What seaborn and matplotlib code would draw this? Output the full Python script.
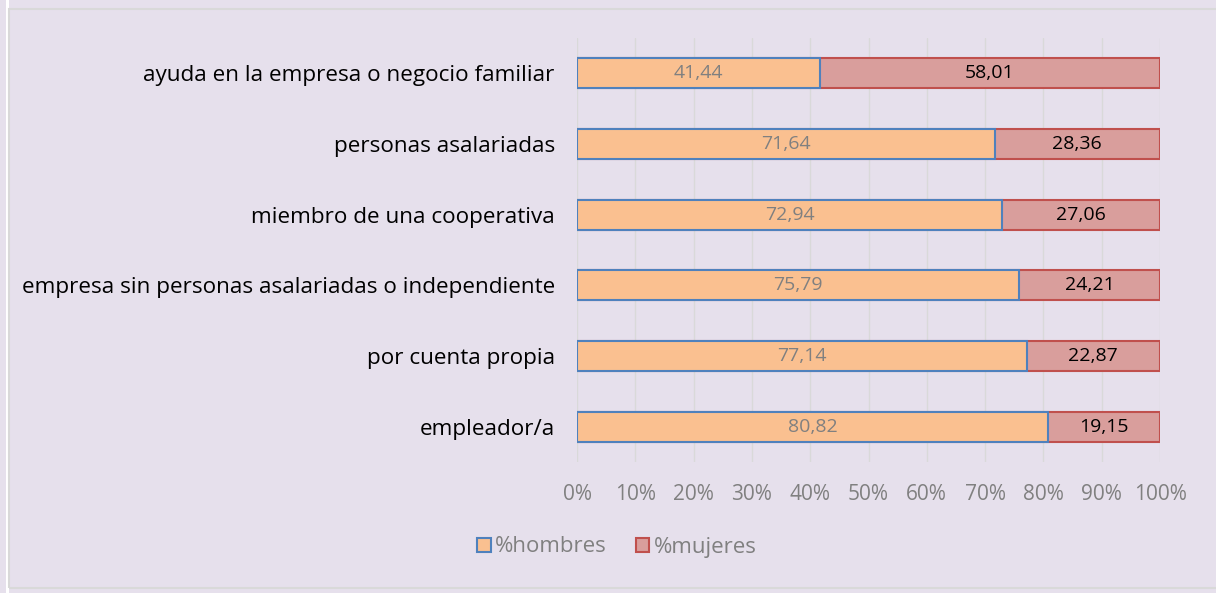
import pandas as pd
import matplotlib.pyplot as plt
import seaborn as sns
from matplotlib.patches import Rectangle, Patch

# Chart data
categorias = [
    "ayuda en la empresa o negocio familiar",
    "personas asalariadas",
    "miembro de una cooperativa",
    "empresa sin personas asalariadas o independiente",
    "por cuenta propia",
    "empleador/a",
]
hombres = [41.44, 71.64, 72.94, 75.79, 77.14, 80.82]
mujeres = [58.01, 28.36, 27.06, 24.21, 22.87, 19.15]

BG = "#E6E0EC"
df = pd.DataFrame({"categoria": categorias, "hombres": hombres, "mujeres": mujeres})
total = df["hombres"] + df["mujeres"]
df["h_pct"] = df["hombres"] / total * 100
df["full"] = 100.0

sns.set_theme(style="white")
plt.rcParams["font.family"] = ["Open Sans", "DejaVu Sans"]

fig = plt.figure(figsize=(12.16, 5.93), dpi=100, facecolor=BG)
ax = fig.add_axes([577 / 1216, 1 - 462 / 593, 583 / 1216, 424 / 593])
ax.set_facecolor(BG)

# mujeres drawn full width underneath, hombres stacked over it
sns.barplot(data=df, y="categoria", x="full", order=categorias, orient="h",
            color="#D99E9C", edgecolor="#C0504D", linewidth=1.5, width=0.42,
            saturation=1, ax=ax, zorder=2)
sns.barplot(data=df, y="categoria", x="h_pct", order=categorias, orient="h",
            color="#FAC090", edgecolor="#4F81BD", linewidth=1.5, width=0.42,
            saturation=1, ax=ax, zorder=3)

for i, row in df.iterrows():
    ax.text(row["h_pct"] / 2, i, f"{row['hombres']:.2f}".replace(".", ","),
            ha="center", va="center", fontsize=14, color="#808080", zorder=4)
    ax.text((row["h_pct"] + 100) / 2, i, f"{row['mujeres']:.2f}".replace(".", ","),
            ha="center", va="center", fontsize=14, color="black", zorder=4)

ax.set_xlim(0, 100)
ax.set_xticks(range(0, 101, 10))
ax.set_xticklabels([f"{t}%" for t in range(0, 101, 10)], fontsize=15, color="#808080")
ax.tick_params(axis="x", length=0, pad=16)
ax.tick_params(axis="y", length=0, pad=16, labelsize=16.2, labelcolor="black")
ax.xaxis.grid(True, color="#D9D9D9", linewidth=1, zorder=0)
ax.set_axisbelow(True)
ax.set_xlabel("")
ax.set_ylabel("")
for s in ax.spines.values():
    s.set_visible(False)

handles = [
    Patch(facecolor="#FAC090", edgecolor="#4F81BD", linewidth=1.5, label="%hombres"),
    Patch(facecolor="#D99E9C", edgecolor="#C0504D", linewidth=1.5, label="%mujeres"),
]
fig.legend(handles=handles, loc="center", bbox_to_anchor=(617 / 1216, 1 - 547 / 593),
           ncol=2, frameon=False, fontsize=16, labelcolor="#808080",
           handlelength=0.6, handleheight=0.6, handletextpad=0.2, columnspacing=1.3)

# outer frame
fig.patches.append(Rectangle((6 / 1216, 0), 3 / 1216, 1, transform=fig.transFigure,
                             facecolor="white", edgecolor="none", zorder=-1))
fig.patches.append(Rectangle((9 / 1216, 1 - 588 / 593), 1.0, 579 / 593, transform=fig.transFigure,
                             facecolor="none", edgecolor="#D9D9D9", linewidth=1.5, zorder=-1))

fig.savefig("out.png", dpi=100, facecolor=BG)
